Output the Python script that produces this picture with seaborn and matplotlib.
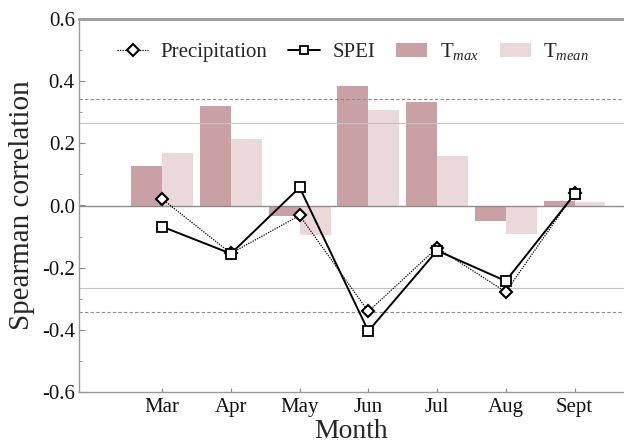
import numpy as np
import pandas as pd
import matplotlib
matplotlib.use("Agg")
import matplotlib.pyplot as plt
import seaborn as sns
from matplotlib.lines import Line2D
from matplotlib.patches import Patch

months = ["Mar", "Apr", "May", "Jun", "Jul", "Aug", "Sept"]
tmax = [0.128, 0.321, -0.033, 0.384, 0.333, -0.049, 0.013]
tmean = [0.170, 0.214, -0.095, 0.306, 0.159, -0.091, 0.010]
precip = [0.021, -0.154, -0.032, -0.341, -0.136, -0.278, 0.039]
spei = [-0.068, -0.155, 0.058, -0.404, -0.145, -0.243, 0.036]
sig_strong = 0.342
sig_weak = 0.264

sns.set_style("white")
plt.rcParams["font.family"] = ["Liberation Serif", "DejaVu Serif"]
plt.rcParams["mathtext.fontset"] = "custom"
plt.rcParams["mathtext.rm"] = "Liberation Serif"
plt.rcParams["mathtext.it"] = "Liberation Serif:italic"

c_max = "#c9a1a4"
c_mean = "#ebd8d9"

df = pd.DataFrame({
    "Month": months * 2,
    "value": tmax + tmean,
    "Var": ["Tmax"] * len(months) + ["Tmean"] * len(months),
})

fig = plt.figure(figsize=(6.24, 4.44), dpi=100)
ax = fig.add_axes([79 / 624, 52 / 444, 545 / 624, 373 / 444])

sns.barplot(data=df, x="Month", y="value", hue="Var", order=months,
            palette=[c_max, c_mean], width=0.9, saturation=1,
            errorbar=None, legend=False, ax=ax, zorder=1, linewidth=0)

for v, ls, col in [(sig_strong, (0, (3, 2)), "#8a8a8a"), (sig_weak, "-", "#c4c4c4"),
                   (-sig_weak, "-", "#c4c4c4"), (-sig_strong, (0, (3, 2)), "#8a8a8a")]:
    ax.axhline(v, ls=ls, color=col, lw=0.8, zorder=2)
ax.axhline(0, color="#8c8c8c", lw=1.0, zorder=2)

pos = np.arange(len(months))
sns.lineplot(x=pos, y=precip, sort=False, ax=ax, color="black", lw=0.9,
             linestyle=(0, (1, 1)), marker="D", markersize=6,
             markerfacecolor="white", markeredgecolor="black",
             markeredgewidth=1.5, zorder=4)
sns.lineplot(x=pos, y=spei, sort=False, ax=ax, color="black", lw=1.4,
             linestyle="-", marker="s", markersize=7,
             markerfacecolor="white", markeredgecolor="black",
             markeredgewidth=1.3, zorder=5)

ax.set_xlim(-1.21, 6.72)
ax.set_ylim(-0.6, 0.6)
ax.set_yticks(np.arange(-0.6, 0.61, 0.2))
ax.set_yticklabels(["-0.6", "-0.4", "-0.2", "0.0", "0.2", "0.4", "0.6"])
ax.set_yticks(np.arange(-0.5, 0.6, 0.2), minor=True)
ax.set_xticks(pos)
ax.set_xticklabels(months)
ax.tick_params(axis="both", which="both", direction="in", colors="#888888",
               labelcolor="#111111", labelsize=15)
ax.tick_params(axis="y", which="major", length=4, left=True, right=False, pad=3)
ax.tick_params(axis="y", which="minor", length=2, left=True, right=False)
ax.tick_params(axis="x", length=3, bottom=True, top=False, pad=4)

for side in ["left", "bottom"]:
    ax.spines[side].set_color("#9a9a9a")
    ax.spines[side].set_linewidth(1.0)
ax.spines["top"].set_color("#9a9a9a")
ax.spines["top"].set_linewidth(2.0)
ax.spines["right"].set_visible(False)

ax.set_xlabel("Month", fontsize=20)
ax.set_ylabel("Spearman correlation", fontsize=21)
ax.xaxis.set_label_coords(0.5, -0.072)
ax.yaxis.set_label_coords(-0.08, 0.5)

handles = [
    Line2D([], [], color="black", lw=0.9, linestyle=(0, (1, 1)), marker="D",
           markersize=6, markerfacecolor="white", markeredgecolor="black",
           markeredgewidth=1.5),
    Line2D([], [], color="black", lw=1.4, marker="s", markersize=6,
           markerfacecolor="white", markeredgecolor="black", markeredgewidth=1.3),
    Patch(facecolor=c_max, edgecolor="none"),
    Patch(facecolor=c_mean, edgecolor="none"),
]
labels = ["Precipitation", "SPEI", r"T$_{\mathit{max}}$", r"T$_{\mathit{mean}}$"]
ax.legend(handles, labels, loc="center", bbox_to_anchor=(0.503, 0.912), ncol=4,
          frameon=False, fontsize=15, handlelength=1.5, columnspacing=1.0,
          handletextpad=0.6)

fig.savefig("out.png", dpi=100)
